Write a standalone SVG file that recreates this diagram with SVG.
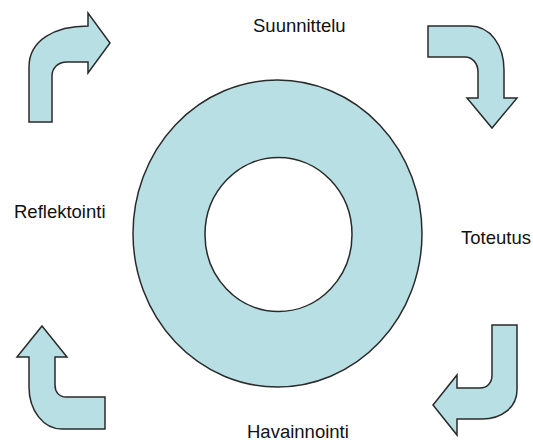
<svg xmlns="http://www.w3.org/2000/svg" width="533" height="443" viewBox="0 0 533 443">
<style>
.shape{fill:#B8E0E4;stroke:#2a2a2a;stroke-width:1.5;stroke-linejoin:miter}
.lbl{font-family:"Liberation Sans",Arial,sans-serif;font-size:18.5px;fill:#111}
</style>
<rect width="533" height="443" fill="#fff"/>
<g id="ring">
<path class="shape" fill-rule="evenodd" d="M133,233.5 A144.5,153.5 0 1 0 422,233.5 A144.5,153.5 0 1 0 133,233.5 Z M205,234.5 A73.5,77 0 1 1 352,234.5 A73.5,77 0 1 1 205,234.5 Z"/>
</g>
<g id="label-suunnittelu"><text class="lbl" x="253" y="32">Suunnittelu</text></g>
<g id="label-toteutus"><text class="lbl" x="461" y="244">Toteutus</text></g>
<g id="label-havainnointi"><text class="lbl" x="247" y="438">Havainnointi</text></g>
<g id="label-reflektointi"><text class="lbl" x="14" y="218">Reflektointi</text></g>
<g id="connectors">
<path id="arrow-top-left" class="shape" d="M29,122 L29,67 C29,40 55,26 88,26 L88,13 L110,43 L88,73 L88,62 L67,62 C58,62 52,68 52,76 L52,122 Z"/>
<path id="arrow-top-right" class="shape" d="M428,26 L470,26 C490,26 504,45 504,70 L504,98 L517,98 L492,128 L467,98 L478,98 L478,72 C478,63 472,57 465,57 L428,57 Z"/>
<path id="arrow-bottom-right" class="shape" d="M492,325 L517,325 L517,390 C517,407 502,419 482,419 L457,419 L457,435 L433,405 L457,375 L457,388 L480,388 C487,388 492,383 492,375 Z"/>
<path id="arrow-bottom-left" class="shape" d="M42,326 L67,357 L55,357 L55,385 C55,392 59,397 66,397 L105,397 L105,429 L62,429 C43,429 29,410 29,387 L29,357 L17,357 Z"/>
</g>
</svg>
